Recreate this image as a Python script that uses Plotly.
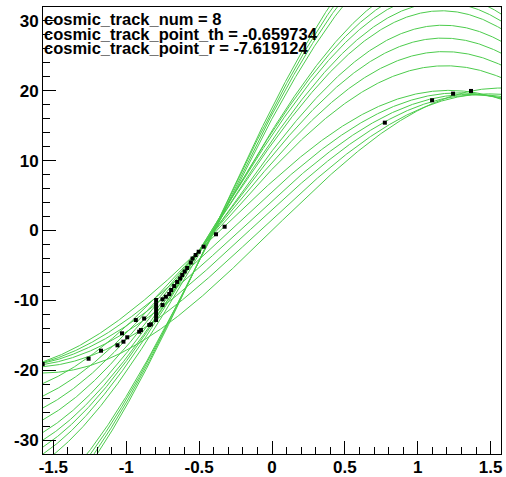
import numpy as np
import plotly.graph_objects as go

# Hough-space curves: r(th) = cx*cos(th) + cy*sin(th), one per hit (cx, cy)
# steep bundle (leaves through top), arcs (peak inside frame), lower family
curve_cx = [16.0, 16.6, 17.1, 17.6,
            8.76, 9.72, 10.67, 11.38, 12.43, 12.9, 13.64, 14.08, 14.3,
            7.0, 5.6, 4.3, 3.0, 1.6, 0.0]
curve_cy = [38.5, 39.4, 40.3, 41.2,
            21.9, 23.7, 25.4, 27.1, 28.9, 30.0, 31.0, 32.0, 33.2,
            18.8, 18.9, 19.0, 19.2, 19.5, 20.4]

# black points (th, r)
pt_th = [-1.573, -1.258, -1.173, -1.060, -1.029, -1.019, -0.993, -0.934, -0.911, -0.899,
         -0.877, -0.842, -0.831, -0.795, -0.795, -0.795, -0.795, -0.795, -0.795, -0.751,
         -0.751, -0.728, -0.705, -0.692, -0.671, -0.651, -0.630, -0.616, -0.599, -0.582,
         -0.557, -0.545, -0.524, -0.503, -0.469, -0.384, -0.325, 0.774, 1.098, 1.242, 1.365]
pt_r = [-19.12, -18.36, -17.21, -16.44, -14.72, -15.92, -15.29, -12.82, -14.49, -14.25,
        -12.60, -13.53, -13.43, -9.95, -10.53, -11.10, -11.67, -12.24, -12.82, -10.67,
        -9.85, -9.48, -9.09, -8.52, -7.95, -7.37, -6.87, -6.37, -5.87, -5.37,
        -4.58, -4.01, -3.51, -3.04, -2.32, -0.54, 0.54, 15.44, 18.65, 19.59, 19.98]

info_lines = ["cosmic_track_num = 8",
              "cosmic_track_point_th = -0.659734",
              "cosmic_track_point_r = -7.619124"]

x_ticks = [-1.5, -1, -0.5, 0, 0.5, 1, 1.5]
x_labels = ["-1.5", "-1", "-0.5", "0", "0.5", "1", "1.5"]
y_ticks = [-30, -20, -10, 0, 10, 20, 30]
y_labels = ["-30", "-20", "-10", "0", "10", "20", "30"]

th = np.linspace(-np.pi / 2, np.pi / 2, 800)
fig = go.Figure()
for cx, cy in zip(curve_cx, curve_cy):
    fig.add_trace(go.Scatter(x=th, y=cx * np.cos(th) + cy * np.sin(th), mode="lines",
                             line=dict(color="#4ccc4c", width=1), hoverinfo="skip",
                             showlegend=False))
fig.add_trace(go.Scatter(x=pt_th, y=pt_r, mode="markers",
                         marker=dict(symbol="square", size=4, color="black", line=dict(width=0)),
                         showlegend=False))

line_px = [19.5, 33.7, 47.9]  # vertical centres of the info lines, px from top of figure
for t, py in zip(info_lines, line_px):
    fig.add_annotation(x=0, y=1 - (py - 7) / 447, xref="paper", yref="paper",
                       xanchor="left", yanchor="middle", text=t, showarrow=False, borderpad=0,
                       font=dict(family="Liberation Sans, Arial", size=16.5, color="black", weight="bold"))

axis_common = dict(showline=True, linecolor="black", linewidth=1, mirror=True, automargin=False,
                   ticks="inside", tickcolor="black", showgrid=False, zeroline=False,
                   tickfont=dict(family="Liberation Sans, Arial", size=17, color="black", weight="bold"))
fig.update_xaxes(range=[-np.pi / 2, np.pi / 2], tickvals=x_ticks, ticktext=x_labels, ticklen=13,
                 ticklabelstandoff=-2,
                 minor=dict(ticks="inside", dtick=0.1, tick0=0, ticklen=7, tickcolor="black"),
                 **axis_common)
fig.update_yaxes(range=[-32, 32], tickvals=y_ticks, ticktext=y_labels, ticklen=13,
                 minor=dict(ticks="inside", dtick=2, tick0=0, ticklen=7, tickcolor="black"),
                 **axis_common)
fig.update_layout(width=506, height=477, margin=dict(l=43, r=5, t=7, b=23),
                  plot_bgcolor="white", paper_bgcolor="white")
fig.write_html("out.html", config={"displayModeBar": False},
               post_script="document.body.style.margin='0';document.body.style.overflow='hidden';")
